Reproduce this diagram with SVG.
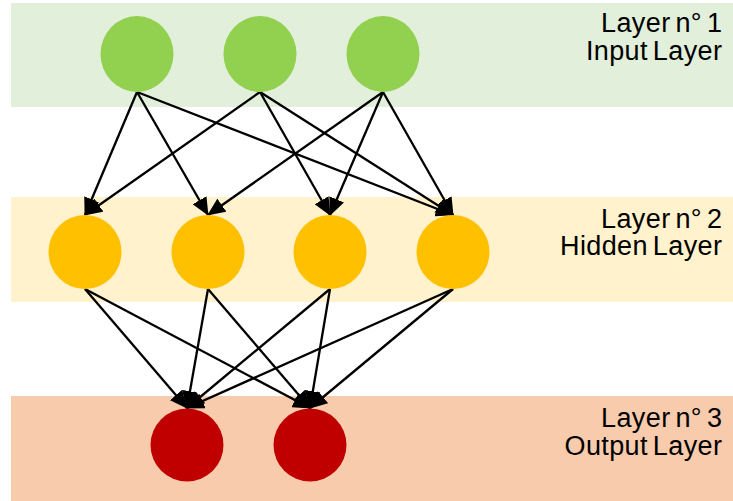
<svg xmlns="http://www.w3.org/2000/svg" width="733" height="501" viewBox="0 0 733 501">
<defs>
<style>
.lbl{font-family:"Liberation Sans",Arial,sans-serif;font-size:27px;letter-spacing:0.4px;word-spacing:-3px;fill:#000;text-anchor:end}
.in{fill:#92D050}
.hid{fill:#FFC000}
.out{fill:#C00000}
.edge{stroke:#000;stroke-width:2.3;fill:none;marker-end:url(#arr)}
</style>
<marker id="arr" markerUnits="userSpaceOnUse" markerWidth="18" markerHeight="16" refX="17" refY="8" orient="auto">
<path d="M0,0 L18,8 L0,16 z" fill="#000"/>
</marker>
</defs>
<g id="bands">
<rect x="11" y="3" width="722" height="104" fill="#E2EFDA"/>
<rect x="11" y="197" width="722" height="105" fill="#FFF2CC"/>
<rect x="11" y="396" width="722" height="105" fill="#F8CBAD"/>
</g>
<g id="labels">
<g id="label1"><text class="lbl" x="722.4" y="32">Layer n° 1</text><text class="lbl" x="722.4" y="59.5">Input Layer</text></g>
<g id="label2"><text class="lbl" x="722.4" y="227.5">Layer n° 2</text><text class="lbl" x="722.4" y="255">Hidden Layer</text></g>
<g id="label3"><text class="lbl" x="722.4" y="427">Layer n° 3</text><text class="lbl" x="722.4" y="454.5">Output Layer</text></g>
</g>
<g id="connectors">
<line class="edge" x1="137" y1="92" x2="85" y2="215"/>
<line class="edge" x1="137" y1="92" x2="208" y2="215"/>
<line class="edge" x1="137" y1="92" x2="453" y2="215"/>
<line class="edge" x1="260" y1="92" x2="85" y2="215"/>
<line class="edge" x1="260" y1="92" x2="330" y2="215"/>
<line class="edge" x1="260" y1="92" x2="453" y2="215"/>
<line class="edge" x1="383" y1="92" x2="208" y2="215"/>
<line class="edge" x1="383" y1="92" x2="330" y2="215"/>
<line class="edge" x1="383" y1="92" x2="453" y2="215"/>
<line class="edge" x1="85" y1="289" x2="187" y2="408"/>
<line class="edge" x1="85" y1="289" x2="310" y2="408"/>
<line class="edge" x1="208" y1="289" x2="187" y2="408"/>
<line class="edge" x1="208" y1="289" x2="310" y2="408"/>
<line class="edge" x1="330" y1="289" x2="187" y2="408"/>
<line class="edge" x1="330" y1="289" x2="310" y2="408"/>
<line class="edge" x1="453" y1="289" x2="187" y2="408"/>
<line class="edge" x1="453" y1="289" x2="310" y2="408"/>
</g>
<g id="input1"><ellipse class="in" cx="137" cy="54" rx="36.5" ry="38"/></g>
<g id="input2"><ellipse class="in" cx="260" cy="54" rx="36.5" ry="38"/></g>
<g id="input3"><ellipse class="in" cx="383" cy="54" rx="36.5" ry="38"/></g>
<g id="hidden1"><ellipse class="hid" cx="85" cy="252" rx="36.5" ry="37"/></g>
<g id="hidden2"><ellipse class="hid" cx="208" cy="252" rx="36.5" ry="37"/></g>
<g id="hidden3"><ellipse class="hid" cx="330" cy="252" rx="36.5" ry="37"/></g>
<g id="hidden4"><ellipse class="hid" cx="453" cy="252" rx="36.5" ry="37"/></g>
<g id="output1"><ellipse class="out" cx="187" cy="445" rx="36.5" ry="36.5"/></g>
<g id="output2"><ellipse class="out" cx="310" cy="445" rx="36.5" ry="36.5"/></g>
</svg>
